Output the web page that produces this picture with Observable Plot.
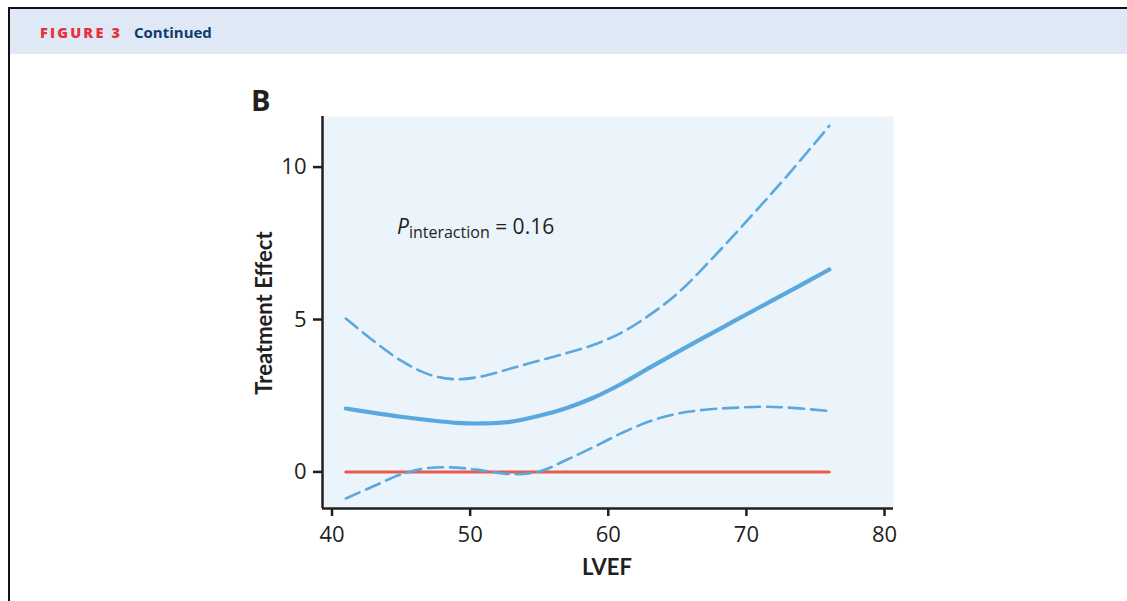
<!DOCTYPE html>
<html><head><meta charset="utf-8">
<script src="https://cdn.jsdelivr.net/npm/d3@7"></script>
<script src="https://cdn.jsdelivr.net/npm/@observablehq/plot@0.6"></script>
<style>
html,body{margin:0;padding:0;background:#fff;}
#wrap{position:relative;width:1127px;height:601px;overflow:hidden;font-family:"Open Sans",sans-serif;color:#231f20;}
#band{position:absolute;left:10px;top:9px;width:1117px;height:45px;background:#dee9f5;}
#frameTop{position:absolute;left:8px;top:7px;width:1119px;height:2px;background:#111;}
#frameLeft{position:absolute;left:8px;top:7px;width:2px;height:594px;background:#111;}
#fig{position:absolute;left:40px;top:23px;font-size:14.5px;font-weight:800;letter-spacing:2.2px;color:#e5313c;font-family:"Open Sans",sans-serif;}
#cont{position:absolute;left:134px;top:22px;font-size:15px;font-weight:700;color:#0f3a6b;font-family:"Open Sans",sans-serif;}
#panel{position:absolute;left:251px;top:80px;font-size:29px;font-weight:700;font-family:"Open Sans",sans-serif;}
#chart{position:absolute;left:0;top:0;}
#chart svg text{fill:#231f20;}
#ylab{position:absolute;left:263px;top:313px;transform:translate(-50%,-50%) rotate(-90deg);white-space:nowrap;font-size:22px;font-weight:700;font-family:"Lato",sans-serif;}
#xlab{position:absolute;left:607px;top:566px;transform:translate(-50%,-50%);white-space:nowrap;font-size:22px;font-weight:700;font-family:"Lato",sans-serif;}
#ann{position:absolute;left:397px;top:212px;white-space:nowrap;font-size:21px;font-family:"Open Sans",sans-serif;}
#ann i{font-style:italic;}
#ann sub{font-size:16px;vertical-align:-4px;}
</style></head>
<body><div id="wrap">
<div id="band"></div><div id="frameTop"></div><div id="frameLeft"></div>
<div id="fig">FIGURE 3</div><div id="cont">Continued</div>
<div id="panel">B</div>
<div id="chart"></div>
<div id="ylab">Treatment Effect</div>
<div id="xlab">LVEF</div>
<div id="ann"><i>P</i><sub>interaction</sub> = 0.16</div>
</div>
<script>
const lvef   = [41, 43, 45, 47, 49, 51, 53, 55, 57, 59, 61, 63, 65, 67, 69, 71, 73, 76];
const effect = [2.08, 1.94, 1.81, 1.70, 1.61, 1.59, 1.65, 1.84, 2.10, 2.45, 2.90, 3.42, 3.93, 4.43, 4.92, 5.41, 5.90, 6.64];
const upper  = [5.03, 4.30, 3.65, 3.20, 3.04, 3.15, 3.40, 3.65, 3.90, 4.18, 4.58, 5.15, 5.85, 6.75, 7.72, 8.72, 9.74, 11.35];
const lower  = [-0.87, -0.47, -0.08, 0.13, 0.14, 0.04, -0.07, 0.01, 0.40, 0.83, 1.28, 1.66, 1.91, 2.04, 2.10, 2.14, 2.11, 2.00];
const refLine = [{x: 41, y: 0}, {x: 76, y: 0}];
const xTicks = [40, 50, 60, 70, 80];
const yTicks = [0, 5, 10];

const xDomain = [39.31, 80.65];
const yDomain = [-1.2, 11.66];

const rows = lvef.map((x, i) => ({x, effect: effect[i], upper: upper[i], lower: lower[i]}));
const blue = "#5aa8dd";

const chart = Plot.plot({
  width: 1127, height: 601,
  marginLeft: 322, marginRight: 234, marginTop: 116, marginBottom: 93,
  x: {domain: xDomain, label: null},
  y: {domain: yDomain, label: null},
  style: {fontFamily: "Open Sans, sans-serif", fontSize: "22px", color: "#231f20", background: "transparent", overflow: "visible"},
  marks: [
    Plot.frame({fill: "#ebf3fb", stroke: null}),
    Plot.line(refLine, {x: "x", y: "y", stroke: "#e85a4c", strokeWidth: 3}),
    Plot.line(rows, {x: "x", y: "upper", stroke: blue, strokeWidth: 2.6, strokeDasharray: "15,7", curve: "catmull-rom"}),
    Plot.line(rows, {x: "x", y: "lower", stroke: blue, strokeWidth: 2.6, strokeDasharray: "15,7", curve: "catmull-rom"}),
    Plot.line(rows, {x: "x", y: "effect", stroke: blue, strokeWidth: 4.2, curve: "catmull-rom"}),
    Plot.axisX({ticks: xTicks, tickSize: 8, tickPadding: 10, stroke: "#231f20", strokeWidth: 2.5, fontSize: 22, label: null}),
    Plot.axisY({ticks: yTicks, tickSize: 9, tickPadding: 7, stroke: "#231f20", strokeWidth: 2.5, fontSize: 22, label: null}),
    Plot.ruleX([xDomain[0]], {stroke: "#231f20", strokeWidth: 2.5}),
    Plot.ruleY([yDomain[0]], {stroke: "#231f20", strokeWidth: 2.5})
  ]
});
document.getElementById("chart").appendChild(chart);
</script>
</body></html>
